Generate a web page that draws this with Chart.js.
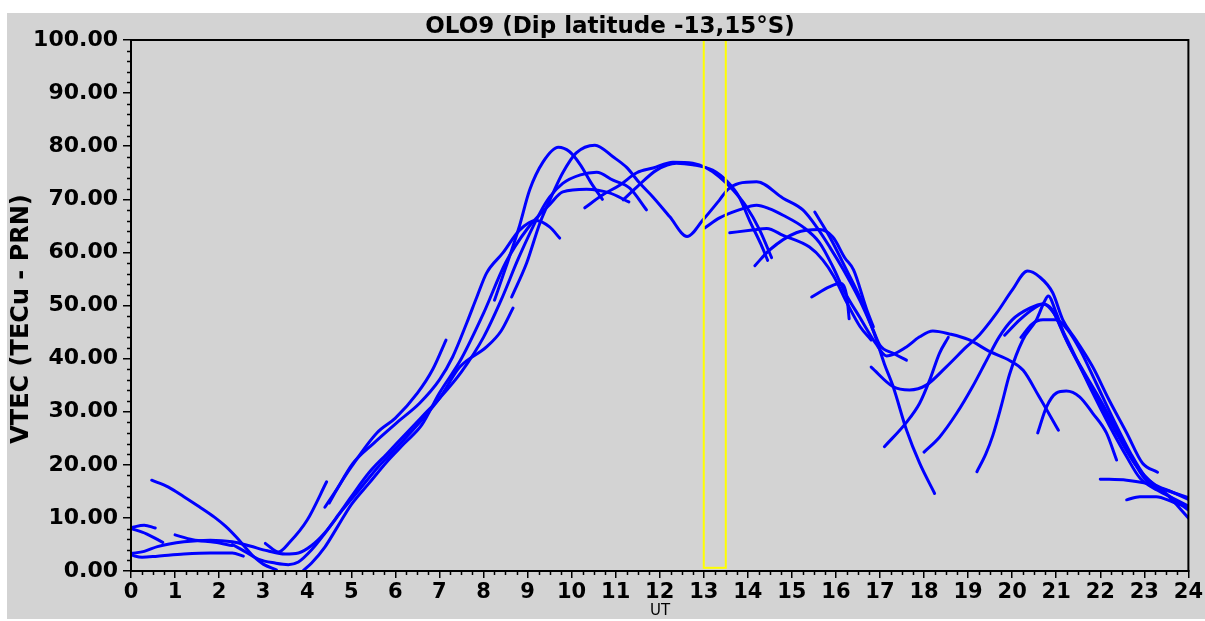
<!DOCTYPE html>
<html>
<head>
<meta charset="utf-8">
<script src="https://cdn.jsdelivr.net/npm/chart.js@4.4.0/dist/chart.umd.min.js"></script>
<style>
  html, body { margin: 0; padding: 0; background: #ffffff; }
  #vtecChart { position: absolute; left: 0; top: 0; }
</style>
</head>
<body>
<canvas id="vtecChart" width="1205" height="621"></canvas>
<script>
// one array per PRN arc: [UT hour, VTEC]
const arc01 = [[0,8.2],[0.3,8.6],[0.55,8.1]];
const arc02 = [[0,8.0],[0.35,7.0],[0.72,5.4]];
const arc03 = [[0.47,17.1],[0.85,15.8],[1.2,14.0],[1.55,12.1],[1.9,10.1],[2.15,8.4],[2.4,6.3],[2.6,4.4],[2.8,2.6],[3.0,1.3],[3.3,0.2]];
const arc04 = [[1.0,6.8],[1.4,5.9],[1.9,5.4],[2.3,4.8]];
const arc05 = [[0,3.3],[0.3,3.7],[0.6,4.6],[1.2,5.5],[1.8,5.8],[2.3,5.5],[2.7,4.7],[3.1,3.8],[3.5,3.2],[3.8,3.4],[4.1,4.8],[4.4,7.2],[4.8,11.5],[5.2,15.5],[5.6,19.5],[6.0,23],[6.5,27.5],[7.0,32.5],[7.46,38.4],[8.07,42.2],[8.4,45.2],[8.67,49.5]];
const arc06 = [[3.05,5.2],[3.35,3.6],[3.6,5.4],[4.0,9.6],[4.44,16.8]];
const arc07 = [[0,3.0],[0.25,2.6],[0.6,2.8],[1.2,3.2],[1.8,3.4],[2.3,3.4],[2.55,2.8]];
const arc08 = [[2.3,5.0],[2.6,3.6],[2.9,2.2],[3.27,1.5],[3.57,1.2],[3.8,1.7],[4.1,4.0],[4.4,7.1],[4.7,10.5],[5.0,14],[5.4,18.5],[5.8,22],[6.2,25.5],[6.6,29],[7.0,32.5],[7.5,37.5],[8.0,44],[8.4,51],[8.8,59],[9.28,67.4],[9.5,70.4],[9.8,73],[10.2,74.6],[10.57,75.1],[10.94,73.6],[11.32,72.1],[11.7,68]];
const arc09 = [[3.9,0],[4.1,1.5],[4.4,4.5],[4.7,8.5],[5.0,12.5],[5.4,16.5],[5.8,20.5],[6.2,24],[6.6,27.5],[7.0,33.5],[7.5,40],[8.0,48.5],[8.5,58],[9.0,64.5],[9.5,69],[9.8,71.4],[10.34,71.9],[10.86,71.2],[11.3,69.5]];
const arc10 = [[4.4,12],[4.6,14.5],[5.0,19.6],[5.58,26],[6.0,28.8],[6.5,33.5],[6.85,38],[7.15,43.5]];
const arc11 = [[4.5,12.8],[4.67,15.3],[5.04,20.3],[5.5,24],[6.1,28.4],[6.55,31.6],[7.0,36],[7.3,40.3],[7.62,46.7],[7.85,51.6],[8.07,56.1],[8.44,59.9],[8.82,64.2],[9.2,66],[9.5,64.8],[9.73,62.7]];
const arc12 = [[8.25,51],[8.5,57],[8.8,64.5],[9.05,71.8],[9.35,77],[9.7,79.8],[9.95,79],[10.2,76.5],[10.45,73],[10.7,70]];
const arc13 = [[8.64,51.6],[8.98,58],[9.28,65.5],[9.58,71.2],[9.8,75],[10.1,78.7],[10.53,80.2],[10.94,78],[11.25,76],[11.55,73],[11.85,70.4],[12.23,66.7],[12.62,63],[12.98,66.1],[13.36,69.9],[13.54,71.8],[13.8,73],[14.2,73.3],[14.8,70.2],[15.25,68],[15.56,64.8],[15.86,61],[16.15,57],[16.54,51],[16.84,45.5],[17.0,42.5],[17.3,41],[17.6,39.7]];
const arc14 = [[10.3,68.4],[10.7,70.8],[11.1,72.7],[11.48,75],[11.85,75.9],[12.3,77],[12.75,76.8],[13.06,75.9],[13.36,74.2],[13.66,71.8],[13.97,68.6],[14.27,64.2],[14.54,59]];
const arc15 = [[11.17,69.9],[11.48,72.3],[11.93,75.5],[12.38,76.8],[12.75,76.5],[13.2,75.5],[13.54,73.3],[13.8,70.5],[14.04,66],[14.3,61.5],[14.45,58.5]];
const arc16 = [[13.02,64.6],[13.36,66.5],[13.8,68],[14.2,68.9],[14.5,68.2],[14.8,67],[15.25,64.8],[15.63,61.8],[15.93,57.3],[16.2,52.5],[16.54,47.8],[16.9,42.9],[17.15,40.5],[17.6,42.2],[17.9,44.1],[18.2,45.2],[18.6,44.6],[19.0,43.6],[19.5,41.3],[19.95,39.6],[20.25,37.8],[20.6,33],[21.05,26.5]];
const arc17 = [[13.59,63.7],[14.1,64.2],[14.43,64.5],[14.8,63.2],[15.4,61],[15.7,58.6],[15.95,55.5],[16.25,50.5],[16.55,46],[16.8,43.5]];
const arc18 = [[14.16,57.5],[14.5,60.5],[15.1,63.7],[15.63,64.3],[15.93,62.9],[16.2,59],[16.4,56.7],[16.7,49.2],[16.85,46]];
const arc19 = [[15.52,67.6],[15.86,62.9],[16.24,56.7],[16.6,50.5],[16.9,44],[17.1,39],[17.3,34.7],[17.6,26.6],[17.9,20.3],[18.24,14.6]];
const arc20 = [[15.45,51.6],[15.85,53.5],[16.1,54.2],[16.25,51.5],[16.3,47.5]];
const arc21 = [[16.8,38.4],[17.3,34.7],[17.67,34.1],[18.05,35],[18.5,38.4],[18.96,42.2],[19.26,44.5],[19.65,48.6],[20.0,52.9],[20.35,56.5],[20.62,55.4],[20.92,52.4],[21.15,47.3],[21.45,43.5],[21.83,38.4],[22.2,32.2],[22.6,26],[22.96,20.3],[23.3,18.6]];
const arc22 = [[17.1,23.4],[17.6,28],[17.9,31.6],[18.13,36],[18.35,41],[18.55,44]];
const arc23 = [[18.0,22.4],[18.35,25.2],[18.74,29.7],[19.1,34.7],[19.42,39.7],[19.7,44],[20.0,47.3],[20.4,49.5],[20.7,50.3],[20.95,48.5],[21.2,44],[21.6,37.5],[22.0,31.5],[22.4,25.5],[22.8,20],[23.2,16.5],[23.6,15],[24,13.5]];
const arc24 = [[19.2,18.7],[19.4,22],[19.56,25.5],[19.75,31],[19.94,37],[20.24,43.5],[20.55,47.3],[20.73,50.7],[20.82,51.8],[21.0,48.6],[21.23,43.5],[21.6,37.9],[22.0,32.2],[22.37,26.6],[22.7,21.5],[23.0,17.5],[23.5,14.5],[24,11.5]];
const arc25 = [[20.58,26],[20.78,30.9],[21.0,33.5],[21.23,33.9],[21.53,32.8],[21.83,29.7],[22.14,26],[22.37,20.9]];
const arc26 = [[19.83,44.4],[20.17,47.3],[20.5,49.5],[20.7,50.3],[20.88,49.5],[21.1,46],[21.4,41],[21.8,34],[22.2,27.5],[22.6,21.5],[22.9,17.5],[23.3,15.2],[23.7,13.5],[24,12.2]];
const arc27 = [[20.2,44],[20.45,46.5],[20.7,47.3],[21.0,47.3],[21.25,45.5],[21.55,41.5],[21.9,35.5],[22.3,28.5],[22.7,22],[23.0,18],[23.5,14.5],[24,10]];
const arc28 = [[22.0,17.3],[22.6,17.1],[23.05,16.5],[23.5,15.2],[24,13.8]];
const arc29 = [[22.6,13.4],[22.9,14],[23.27,14],[23.65,13],[24,12]];

const arcs = [arc01, arc02, arc03, arc04, arc05, arc06, arc07, arc08, arc09, arc10,
  arc11, arc12, arc13, arc14, arc15, arc16, arc17, arc18, arc19, arc20,
  arc21, arc22, arc23, arc24, arc25, arc26, arc27, arc28, arc29];

const hourTicks = [0,1,2,3,4,5,6,7,8,9,10,11,12,13,14,15,16,17,18,19,20,21,22,23,24];
const tecTicks = [0,10,20,30,40,50,60,70,80,90,100];
const highlightHours = [13, 13.5];

const titleText = 'OLO9 (Dip latitude -13,15°S)';
const yTitle = 'VTEC (TECu - PRN)';
const xTitle = 'UT';

const boldFont = 'bold 22px "DejaVu Sans"';

const frame = {
  id: 'frame',
  beforeDraw(chart) {
    const ctx = chart.ctx;
    ctx.save();
    ctx.fillStyle = '#d3d3d3';
    ctx.fillRect(7, 13, 1198, 606);
    ctx.restore();
  },
  afterDatasetsDraw(chart) {
    const ctx = chart.ctx;
    const x = chart.scales.x;
    const y = chart.scales.y;
    ctx.save();
    ctx.strokeStyle = '#ffff00';
    ctx.lineWidth = 2;
    const x0 = x.getPixelForValue(highlightHours[0]);
    const x1 = x.getPixelForValue(highlightHours[1]);
    const y0 = y.getPixelForValue(100);
    const y1 = y.getPixelForValue(0.6);
    ctx.strokeRect(x0, y0, x1 - x0, y1 - y0);
    ctx.restore();
  },
  afterDraw(chart) {
    const ctx = chart.ctx;
    const a = chart.chartArea;
    const x = chart.scales.x;
    const y = chart.scales.y;
    ctx.save();
    ctx.strokeStyle = '#000';
    ctx.lineWidth = 2;
    ctx.strokeRect(a.left, a.top, a.right - a.left, a.bottom - a.top);
    // minor ticks
    ctx.lineWidth = 1.5;
    ctx.beginPath();
    for (let v = 2; v < 100; v += 2) {
      if (v % 10 === 0) continue;
      const py = Math.round(y.getPixelForValue(v)) + 0.5;
      ctx.moveTo(a.left - 4, py);
      ctx.lineTo(a.left, py);
    }
    for (let h = 0.25; h < 24; h += 0.25) {
      if (h % 1 === 0) continue;
      const px = Math.round(x.getPixelForValue(h)) + 0.5;
      ctx.moveTo(px, a.bottom);
      ctx.lineTo(px, a.bottom + 4);
    }
    ctx.stroke();
    // titles
    ctx.fillStyle = '#000';
    ctx.textAlign = 'center';
    ctx.textBaseline = 'middle';
    ctx.font = 'bold 23px "DejaVu Sans"';
    ctx.fillText(titleText, 610, 27);
    ctx.font = '15px "DejaVu Sans"';
    ctx.fillText(xTitle, 660, 611);
    ctx.save();
    ctx.translate(22, 319);
    ctx.rotate(-Math.PI / 2);
    ctx.font = 'bold 24px "DejaVu Sans"';
    ctx.fillText(yTitle, 0, 0);
    ctx.restore();
    ctx.restore();
  }
};

const datasets = arcs.map(function (arc, i) {
  return {
    label: 'arc' + (i + 1),
    data: arc.map(p => ({ x: p[0], y: p[1] })),
    borderColor: '#0000ff',
    borderWidth: 3,
    pointRadius: 0,
    fill: false,
    cubicInterpolationMode: 'monotone',
    borderCapStyle: 'round',
    borderJoinStyle: 'round'
  };
});

const vtecChart = new Chart(document.getElementById('vtecChart'), {
  type: 'line',
  data: { datasets: datasets },
  plugins: [frame],
  options: {
    responsive: false,
    animation: false,
    devicePixelRatio: 1,
    layout: { padding: { top: 40, right: 16, left: 0, bottom: 0 } },
    plugins: {
      legend: { display: false },
      tooltip: { enabled: false },
      title: { display: false }
    },
    scales: {
      x: {
        type: 'linear',
        min: 0,
        max: 24,
        afterFit: function (s) { s.height = 50; },
        afterBuildTicks: function (s) { s.ticks = hourTicks.map(v => ({ value: v })); },
        ticks: {
          autoSkip: false,
          maxRotation: 0,
          color: '#000',
          padding: 2,
          font: { family: 'DejaVu Sans', weight: 'bold', size: 21 },
          callback: v => String(v)
        },
        grid: { display: true, drawOnChartArea: false, drawTicks: true, tickLength: 7, color: '#000', lineWidth: 1.5 },
        border: { display: true, color: '#000', width: 2 }
      },
      y: {
        min: 0,
        max: 100,
        afterFit: function (s) { s.width = 131; },
        afterBuildTicks: function (s) { s.ticks = tecTicks.map(v => ({ value: v })); },
        ticks: {
          color: '#000',
          padding: 5,
          font: { family: 'DejaVu Sans', weight: 'bold', size: 22 },
          callback: v => v.toFixed(2)
        },
        grid: { display: true, drawOnChartArea: false, drawTicks: true, tickLength: 8, color: '#000', lineWidth: 1.5 },
        border: { display: true, color: '#000', width: 2 }
      }
    }
  }
});
</script>
</body>
</html>
